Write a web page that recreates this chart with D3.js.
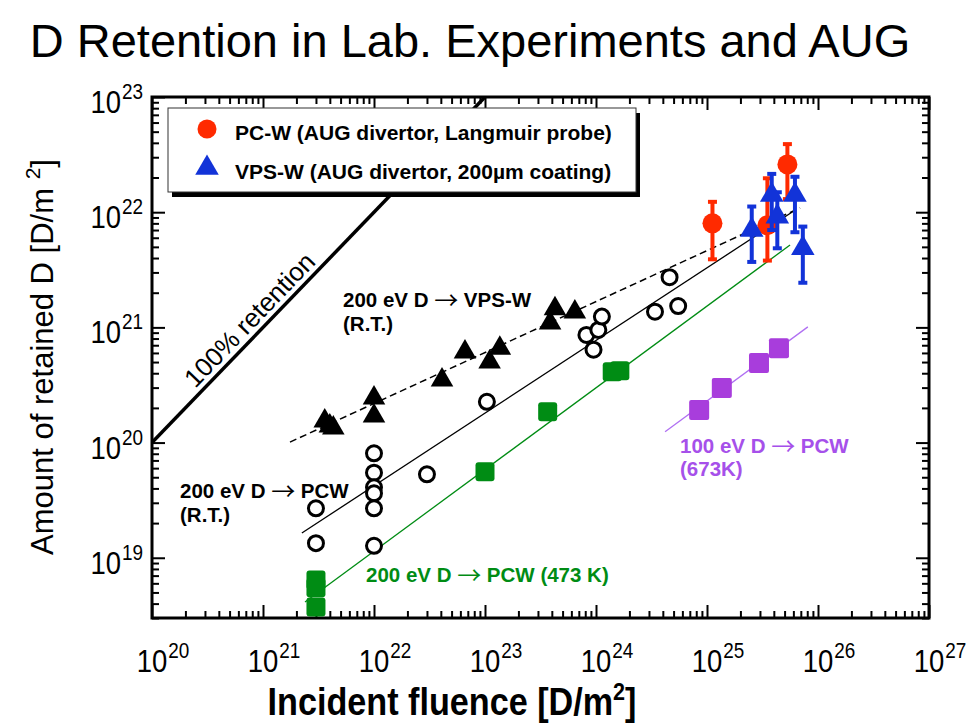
<!DOCTYPE html>
<html><head><meta charset="utf-8">
<script src="https://cdn.jsdelivr.net/npm/d3@7"></script>
<style>
body{margin:0;background:#fff;}
svg{display:block;font-family:"Liberation Sans",Arial,Helvetica,sans-serif;}
</style></head><body>
<svg id="chart" width="979" height="723"></svg>
<script>
// ---- data: fluence [D/m^2] vs retained D [D/m^2] ----
// 200 eV D -> VPS-W, room temperature (filled black triangles)
const vpsX = [3.6e21, 4.0e21, 4.3e21, 1.0e22, 1.0e22, 4.1e22, 6.6e22, 1.1e23, 1.36e23, 3.86e23, 4.27e23, 6.45e23];
const vpsY = [1.54e20, 1.39e20, 1.34e20, 2.44e20, 1.70e20, 3.5e20, 6.1e20, 5.0e20, 6.6e20, 1.09e21, 1.45e21, 1.36e21];
// 200 eV D -> PCW, room temperature (open circles)
const pcwX = [3e21, 3e21, 1e22, 1e22, 1e22, 1e22, 1e22, 1e22, 3e22, 1.04e23, 8.2e23, 1.05e24, 1.13e24, 9.5e23, 3.4e24, 5.5e24, 4.6e24];
const pcwY = [2.69e19, 1.34e19, 8.07e19, 5.48e19, 4.09e19, 3.63e19, 2.69e19, 1.27e19, 5.3e19, 2.26e20, 8.6e20, 9.5e20, 1.24e21, 6.4e20, 1.37e21, 1.53e21, 2.73e21];
// 200 eV D -> PCW at 473 K (green squares)
const pcw473X = [3e21, 3e21, 3e21, 1.0e23, 3.67e23, 1.40e24, 1.64e24];
const pcw473Y = [6.4e18, 5.5e18, 3.74e18, 5.58e19, 1.85e20, 4.12e20, 4.2e20];
// 100 eV D -> PCW at 673 K (purple squares)
const pcw673X = [8.5e24, 1.36e25, 2.94e25, 4.45e25];
const pcw673Y = [1.92e20, 2.98e20, 4.9e20, 6.6e20];
// AUG divertor, PC-W (Langmuir probe) with error bars
const augPcX  = [1.12e25, 5.3e25, 3.5e25];
const augPcY  = [8.0e21, 2.6e22, 7.7e21];
const augPcLo = [3.9e21, 1.3e22, 3.8e21];
const augPcHi = [1.23e22, 3.9e22, 1.97e22];
// AUG divertor, VPS-W (200 um coating) with error bars
const augVpsX  = [2.53e25, 3.83e25, 4.3e25, 6.2e25, 7.3e25];
const augVpsY  = [7.0e21, 1.41e22, 9.15e21, 1.41e22, 4.86e21];
const augVpsLo = [3.7e21, 7.0e21, 4.86e21, 6.7e21, 2.44e21];
const augVpsHi = [1.12e22, 2.15e22, 1.49e22, 2.03e22, 7.5e21];
// fitted trend lines: [x0, y0, x1, y1]
const fitRetention = [1e20, 1e20, 1e23, 1e23];
const fitVps    = [1.75e21, 1.01e20, 6.9e25, 1.09e22];
const fitPcw    = [2.24e21, 1.64e19, 6.2e25, 1.04e22];
const fitPcw473 = [2.39e21, 4.13e18, 5.6e25, 5.19e21];
const fitPcw673 = [4.19e24, 1.24e20, 8.1e25, 1.01e21];
// axis tick exponents
const xExponents = [20, 21, 22, 23, 24, 25, 26, 27];
const yExponents = [19, 20, 21, 22, 23];

const C = {red: "#ff2a00", blue: "#1233d8", green: "#008c14", purple: "#a83ddc", purpleText: "#a650ea", purpleLine: "#b070f2"};

const frame = {left: 152, right: 929, top: 97, bottom: 618};
const x = d3.scaleLog().domain([1e20, 1e27]).range([frame.left, frame.right]);
const y = d3.scaleLog().domain([3e18, 1e23]).range([frame.bottom, frame.top]);
const svg = d3.select("#chart");

svg.append("text").attr("x", 470).attr("y", 57).attr("text-anchor", "middle")
  .attr("font-size", 47).text("D Retention in Lab. Experiments and AUG");

svg.append("clipPath").attr("id", "plotClip").append("rect")
  .attr("x", frame.left).attr("y", frame.top)
  .attr("width", frame.right - frame.left).attr("height", frame.bottom - frame.top);

// ---- ticks (inside the frame, all four sides) ----
function minorTicks(lo, hi, min, max) {
  const out = [];
  for (let e = lo; e < hi; e++) for (let m = 2; m <= 9; m++) {
    const v = m * Math.pow(10, e);
    if (v >= min && v <= max) out.push(v);
  }
  return out;
}
const xMajor = xExponents.map(e => Math.pow(10, e));
const yMajor = yExponents.map(e => Math.pow(10, e));
const xMinor = minorTicks(20, 27, 1e20, 1e27);
const yMinor = minorTicks(18, 23, 3e18, 1e23);

function drawTicks(axis, tr, values, len) {
  const g = svg.append("g").attr("transform", tr)
    .call(axis.tickValues(values).tickSize(-len).tickFormat(""));
  g.select(".domain").remove();
  g.selectAll("line").attr("stroke", "#000").attr("stroke-width", 2);
}
[[xMajor, 13], [xMinor, 7]].forEach(([v, l]) => {
  drawTicks(d3.axisBottom(x), `translate(0,${frame.bottom})`, v, l);
  drawTicks(d3.axisTop(x), `translate(0,${frame.top})`, v, l);
});
[[yMajor, 13], [yMinor, 7]].forEach(([v, l]) => {
  drawTicks(d3.axisLeft(y), `translate(${frame.left},0)`, v, l);
  drawTicks(d3.axisRight(y), `translate(${frame.right},0)`, v, l);
});

svg.append("rect").attr("x", frame.left).attr("y", frame.top)
  .attr("width", frame.right - frame.left).attr("height", frame.bottom - frame.top)
  .attr("fill", "none").attr("stroke", "#000").attr("stroke-width", 3);

// ---- tick labels ----
const tickFont = 32, supFont = 22, squeeze = 0.86;
xExponents.forEach(e => {
  const px = x(Math.pow(10, e));
  const w10 = 1.112 * tickFont * squeeze;
  const t = svg.append("text").attr("transform", `translate(${px - w10 / 2},672) scale(${squeeze},1)`);
  t.append("tspan").attr("font-size", tickFont).text("10");
  t.append("tspan").attr("font-size", supFont).attr("dx", 1).attr("dy", -14).text(e);
});
yExponents.forEach(e => {
  const py = y(Math.pow(10, e));
  const t = svg.append("text").attr("text-anchor", "end")
    .attr("transform", `translate(143,${py + 16}) scale(${squeeze},1)`);
  t.append("tspan").attr("font-size", tickFont).text("10");
  t.append("tspan").attr("font-size", supFont).attr("dx", 1).attr("dy", -14).text(e);
});

// ---- axis titles ----
const xt = svg.append("text").attr("text-anchor", "middle").attr("font-weight", "bold")
  .attr("transform", "translate(452,715) scale(0.9,1)").attr("font-size", 38);
xt.append("tspan").text("Incident fluence [D/m");
xt.append("tspan").attr("font-size", 24).attr("dy", -15).text("2");
xt.append("tspan").attr("dy", 15).text("]");

const yt = svg.append("text").attr("text-anchor", "middle")
  .attr("transform", "translate(53,357) rotate(-90)").attr("font-size", 31);
yt.append("tspan").text("Amount of retained D [D/m ");
yt.append("tspan").attr("font-size", 21).attr("dy", -13).text("2");
yt.append("tspan").attr("dy", 13).text("]");

// ---- trend lines ----
const plot = svg.append("g").attr("clip-path", "url(#plotClip)");
function fitLine(f, color, width, dash) {
  plot.append("line")
    .attr("x1", x(f[0])).attr("y1", y(f[1])).attr("x2", x(f[2])).attr("y2", y(f[3]))
    .attr("stroke", color).attr("stroke-width", width).attr("stroke-dasharray", dash || null);
}
fitLine(fitRetention, "#000", 3.5);
fitLine(fitVps, "#000", 1.5, "7,4");
fitLine(fitPcw, "#000", 1.3);
fitLine(fitPcw473, C.green, 1.3);
fitLine(fitPcw673, C.purpleLine, 1.3);

// ---- lab data ----
const zip = (a, b) => a.map((v, i) => [v, b[i]]);
const tri = d3.symbol().type(d3.symbolTriangle);

plot.selectAll(".sq473").data(zip(pcw473X, pcw473Y)).join("rect")
  .attr("x", d => x(d[0]) - 9.5).attr("y", d => y(d[1]) - 9.5)
  .attr("width", 19).attr("height", 19).attr("rx", 3).attr("fill", C.green);
plot.selectAll(".sq673").data(zip(pcw673X, pcw673Y)).join("rect")
  .attr("x", d => x(d[0]) - 10).attr("y", d => y(d[1]) - 10)
  .attr("width", 20).attr("height", 20).attr("rx", 2).attr("fill", C.purple);
plot.selectAll(".circ").data(zip(pcwX, pcwY)).join("circle")
  .attr("cx", d => x(d[0])).attr("cy", d => y(d[1])).attr("r", 7.5)
  .attr("fill", "#fff").attr("stroke", "#000").attr("stroke-width", 3);
plot.selectAll(".tri").data(zip(vpsX, vpsY)).join("path")
  .attr("d", tri.size(220)()).attr("transform", d => `translate(${x(d[0])},${y(d[1])})`)
  .attr("fill", "#000");

// ---- AUG data with error bars ----
function errorBars(xs, lo, hi, color) {
  const g = plot.append("g").attr("stroke", color).attr("stroke-width", 4);
  xs.forEach((v, i) => {
    const px = x(v);
    g.append("line").attr("x1", px).attr("x2", px).attr("y1", y(lo[i])).attr("y2", y(hi[i]));
    [lo[i], hi[i]].forEach(b => g.append("line")
      .attr("x1", px - 4.5).attr("x2", px + 4.5).attr("y1", y(b)).attr("y2", y(b)));
  });
}
errorBars(augPcX, augPcLo, augPcHi, C.red);
plot.selectAll(".augpc").data(zip(augPcX, augPcY)).join("circle")
  .attr("cx", d => x(d[0])).attr("cy", d => y(d[1])).attr("r", 10).attr("fill", C.red);
errorBars(augVpsX, augVpsLo, augVpsHi, C.blue);
plot.selectAll(".augvps").data(zip(augVpsX, augVpsY)).join("path")
  .attr("d", tri.size(240)()).attr("transform", d => `translate(${x(d[0])},${y(d[1])})`)
  .attr("fill", C.blue);

// ---- annotations ----
const ang = Math.atan2(y(1e20) - y(1e23), x(1e23) - x(1e20)) * 180 / Math.PI;
svg.append("text").attr("text-anchor", "middle").attr("font-size", 26)
  .attr("transform", `translate(256,326) rotate(${-ang})`).text("100% retention");

// label lines: [before arrow, after arrow] or plain string
function label(lines, px, py, color, lh) {
  const t = svg.append("text").attr("font-weight", "bold").attr("font-size", 20.5).attr("fill", color);
  lines.forEach((s, i) => {
    const ts = t.append("tspan").attr("x", px).attr("y", py + i * lh);
    if (Array.isArray(s)) {
      ts.append("tspan").text(s[0]);
      ts.append("tspan").attr("font-family", "'Noto Sans CJK JP', 'DejaVu Sans', sans-serif")
        .attr("font-weight", "normal").attr("font-size", 24).attr("dy", 2).text("\u2192");
      ts.append("tspan").attr("dy", -2).text(s[1]);
    } else ts.text(s);
  });
}
label([["200 eV D ", " VPS-W"], "(R.T.)"], 343, 307, "#000", 24);
label([["200 eV D ", " PCW"], "(R.T.)"], 180, 498, "#000", 24);
label([["200 eV D ", " PCW (473 K)"]], 366, 582, C.green, 24);
label([["100 eV D ", " PCW"], "(673K)"], 680, 453, C.purpleText, 23);

// ---- legend ----
const lg = svg.append("g");
lg.append("rect").attr("x", 172).attr("y", 113).attr("width", 468).attr("height", 84).attr("fill", "#000");
lg.append("rect").attr("x", 168).attr("y", 108).attr("width", 468).attr("height", 84)
  .attr("fill", "#fff").attr("stroke", "#333").attr("stroke-width", 1);
lg.append("circle").attr("cx", 207).attr("cy", 129).attr("r", 9.5).attr("fill", C.red);
lg.append("path").attr("d", tri.size(240)()).attr("transform", "translate(207,168)").attr("fill", C.blue);
lg.append("text").attr("x", 235).attr("y", 140).attr("font-weight", "bold").attr("font-size", 21)
  .text("PC-W (AUG divertor, Langmuir probe)");
lg.append("text").attr("x", 235).attr("y", 179).attr("font-weight", "bold").attr("font-size", 21)
  .text("VPS-W (AUG divertor, 200\u00b5m coating)");
</script>
</body></html>
